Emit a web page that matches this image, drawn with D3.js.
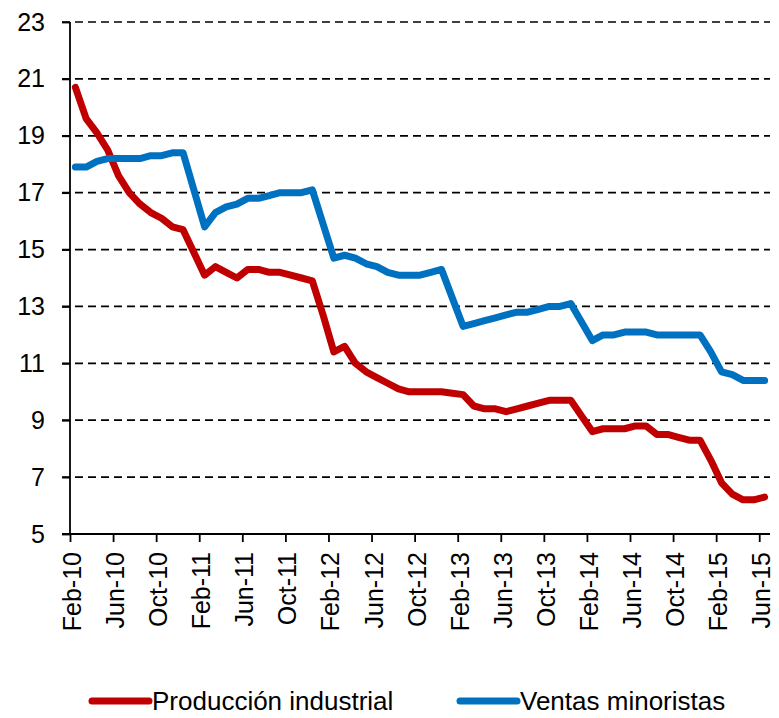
<!DOCTYPE html>
<html>
<head>
<meta charset="utf-8">
<script src="https://cdn.jsdelivr.net/npm/d3@7"></script>
<style>
  body { margin: 0; background: #fff; }
  svg { display: block; font-family: 'Liberation Sans', Arial, sans-serif; }
</style>
</head>
<body>
<svg id="chart" width="779" height="718"></svg>
<script>
// monthly, Feb-10 .. Jun-15
const produccion = [
  20.7, 19.6, 19.1, 18.5, 17.6, 17.0, 16.6, 16.3, 16.1, 15.8, 15.7,
  14.9, 14.1, 14.4, 14.2, 14.0, 14.3, 14.3, 14.2, 14.2, 14.1, 14.0, 13.9,
  12.7, 11.4, 11.6, 11.0, 10.7, 10.5, 10.3, 10.1, 10.0, 10.0, 10.0, 10.0,
  9.95, 9.9, 9.5, 9.4, 9.4, 9.3, 9.4, 9.5, 9.6, 9.7, 9.7, 9.7,
  9.15, 8.6, 8.7, 8.7, 8.7, 8.8, 8.8, 8.5, 8.5, 8.4, 8.3, 8.3,
  7.6, 6.8, 6.4, 6.2, 6.2, 6.3
]
const ventas = [
  17.9, 17.9, 18.1, 18.2, 18.2, 18.2, 18.2, 18.3, 18.3, 18.4, 18.4,
  17.1, 15.8, 16.3, 16.5, 16.6, 16.8, 16.8, 16.9, 17.0, 17.0, 17.0, 17.1,
  15.9, 14.7, 14.8, 14.7, 14.5, 14.4, 14.2, 14.1, 14.1, 14.1, 14.2, 14.3,
  13.3, 12.3, 12.4, 12.5, 12.6, 12.7, 12.8, 12.8, 12.9, 13.0, 13.0, 13.1,
  12.45, 11.8, 12.0, 12.0, 12.1, 12.1, 12.1, 12.0, 12.0, 12.0, 12.0, 12.0,
  11.4, 10.7, 10.6, 10.4, 10.4, 10.4
]
const tickLabels = ['Feb-10', 'Jun-10', 'Oct-10', 'Feb-11', 'Jun-11', 'Oct-11', 'Feb-12', 'Jun-12', 'Oct-12',
  'Feb-13', 'Jun-13', 'Oct-13', 'Feb-14', 'Jun-14', 'Oct-14', 'Feb-15', 'Jun-15']
const yTicks = [5, 7, 9, 11, 13, 15, 17, 19, 21, 23]

const series = [
  { name: 'Producción industrial', values: produccion, color: '#C00000' },
  { name: 'Ventas minoristas', values: ventas, color: '#0070C0' }
]

const svg = d3.select('#chart')
const plot = { left: 70, right: 770, top: 22, bottom: 534 }

const x = d3.scaleLinear().domain([0, produccion.length]).range([plot.left, plot.right])
const y = d3.scaleLinear().domain([5, 23]).range([plot.bottom, plot.top])

// dashed grid
svg.append('g')
  .selectAll('line')
  .data(yTicks.filter((d) => d > 5))
  .enter().append('line')
  .attr('x1', plot.left - 8).attr('x2', plot.right)
  .attr('y1', (d) => y(d)).attr('y2', (d) => y(d))
  .attr('stroke', '#000').attr('stroke-width', 1.7)
  .attr('stroke-dasharray', '8,5')

// y axis
const yAxis = svg.append('g')
  .attr('transform', `translate(${plot.left},0)`)
  .call(d3.axisLeft(y).tickValues(yTicks).tickSize(8).tickPadding(17))
yAxis.select('.domain').attr('stroke-width', 1.8).attr('d', `M0,${plot.bottom}V${plot.top}`)
yAxis.selectAll('.tick line').attr('stroke-width', 1.8)
yAxis.selectAll('text').attr('font-size', '25px').attr('fill', '#000').attr('font-family', 'Liberation Sans, Arial, sans-serif')

// x axis
const tickIdx = tickLabels.map((d, i) => i * 4)
const xAxis = svg.append('g')
  .attr('transform', `translate(0,${plot.bottom})`)
  .call(d3.axisBottom(x).tickValues(tickIdx).tickSize(8).tickFormat((d, i) => tickLabels[i]))
xAxis.select('.domain').attr('stroke-width', 1.8).attr('d', `M${plot.left - 8},0H${plot.right}`)
xAxis.selectAll('.tick line').attr('stroke-width', 1.8)
xAxis.selectAll('text')
  .attr('font-size', '25px').attr('fill', '#000').attr('font-family', 'Liberation Sans, Arial, sans-serif')
  .attr('text-anchor', 'end')
  .attr('transform', 'rotate(-90)')
  .attr('x', -18).attr('y', 0).attr('dy', '0.42em')

// lines
const line = d3.line()
  .x((d, i) => x(i + 0.5))
  .y((d) => y(d))

svg.append('g')
  .selectAll('path')
  .data(series)
  .enter().append('path')
  .attr('d', (d) => line(d.values))
  .attr('fill', 'none')
  .attr('stroke', (d) => d.color)
  .attr('stroke-width', 7)
  .attr('stroke-linejoin', 'round')
  .attr('stroke-linecap', 'round')

// legend
const legendX = [92, 460]
const legend = svg.append('g')
  .selectAll('g')
  .data(series)
  .enter().append('g')
  .attr('transform', (d, i) => `translate(${legendX[i]},701)`)

legend.append('line')
  .attr('x1', 0).attr('x2', 57)
  .attr('stroke', (d) => d.color)
  .attr('stroke-width', 7)
  .attr('stroke-linecap', 'round')

legend.append('text')
  .attr('x', 60).attr('dy', '0.34em')
  .attr('font-size', '26px')
  .attr('fill', '#000')
  .text((d) => d.name)
</script>
</body>
</html>
